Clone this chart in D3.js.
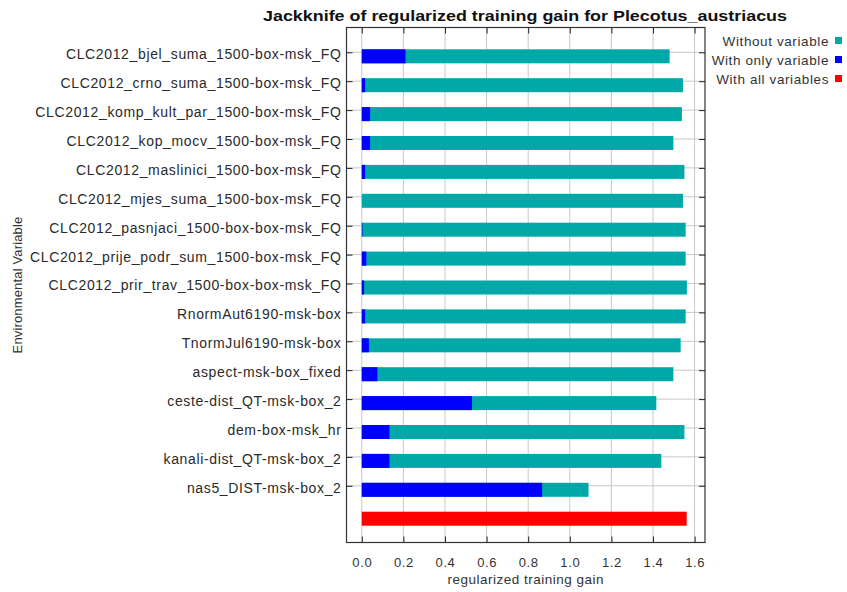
<!DOCTYPE html>
<html><head><meta charset="utf-8">
<script src="https://cdn.jsdelivr.net/npm/d3@7"></script>
<style>body{margin:0;background:#fff}svg{display:block}text{font-family:"Liberation Sans",Arial,sans-serif}</style>
</head><body><svg id="c" width="847" height="592"></svg>
<script>
const variables = [
  "CLC2012_bjel_suma_1500-box-msk_FQ",
  "CLC2012_crno_suma_1500-box-msk_FQ",
  "CLC2012_komp_kult_par_1500-box-msk_FQ",
  "CLC2012_kop_mocv_1500-box-msk_FQ",
  "CLC2012_maslinici_1500-box-msk_FQ",
  "CLC2012_mjes_suma_1500-box-msk_FQ",
  "CLC2012_pasnjaci_1500-box-box-msk_FQ",
  "CLC2012_prije_podr_sum_1500-box-msk_FQ",
  "CLC2012_prir_trav_1500-box-box-msk_FQ",
  "RnormAut6190-msk-box",
  "TnormJul6190-msk-box",
  "aspect-msk-box_fixed",
  "ceste-dist_QT-msk-box_2",
  "dem-box-msk_hr",
  "kanali-dist_QT-msk-box_2",
  "nas5_DIST-msk-box_2"
];
const withoutVariable = [1.480,1.544,1.539,1.498,1.551,1.544,1.557,1.557,1.563,1.557,1.533,1.498,1.416,1.551,1.440,1.090];
const withOnlyVariable = [0.210,0.016,0.040,0.040,0.016,0.000,0.003,0.022,0.011,0.016,0.034,0.075,0.530,0.133,0.133,0.867];
const withAllVariables = 1.562;
const xTicks = [0.0,0.2,0.4,0.6,0.8,1.0,1.2,1.4,1.6];
const legendLabels = ["Without variable","With only variable","With all variables"];
const colors = {without:"#00A8A8", only:"#0000FF", all:"#FF0000"};

const svg = d3.select("#c");
const L = 346.5, R = 705, T = 27.5, B = 542.5;
const x = d3.scaleLinear().domain([-0.0735, 1.650]).range([L, R]);
const rows = variables.concat(["__all__"]);
const y = d3.scalePoint().domain(rows).range([52.3, 514.7]);
const barH = 14, barOff = 3;

// grid
const g = svg.append("g");
g.selectAll("line.vg").data(xTicks).join("line")
  .attr("x1", d => x(d)).attr("x2", d => x(d)).attr("y1", T).attr("y2", B)
  .attr("stroke", "#c8c8c8").attr("stroke-width", 1);
g.selectAll("line.hg").data(variables).join("line")
  .attr("x1", L).attr("x2", R).attr("y1", d => y(d)).attr("y2", d => y(d))
  .attr("stroke", "#c8c8c8").attr("stroke-width", 1);

// bars
svg.append("g").selectAll("rect").data(variables).join("rect")
  .attr("x", x(0)).attr("y", d => y(d) - barOff)
  .attr("width", (d,i) => x(withoutVariable[i]) - x(0)).attr("height", barH)
  .attr("fill", colors.without);
svg.append("g").selectAll("rect").data(variables).join("rect")
  .attr("x", x(0)).attr("y", d => y(d) - barOff)
  .attr("width", (d,i) => x(withOnlyVariable[i]) - x(0)).attr("height", barH)
  .attr("fill", colors.only);
svg.append("rect").attr("x", x(0)).attr("y", y("__all__") - barOff)
  .attr("width", x(withAllVariables) - x(0)).attr("height", barH).attr("fill", colors.all);

// frame
svg.append("rect").attr("x", L).attr("y", T).attr("width", R - L).attr("height", B - T)
  .attr("fill", "none").attr("stroke", "#333").attr("stroke-width", 1.2);

// axes (inward ticks)
const xb = svg.append("g").attr("transform", `translate(0,${B})`)
  .call(d3.axisBottom(x).tickValues(xTicks).tickFormat(d3.format(".1f")).tickSize(-6).tickPadding(15));
const xt = svg.append("g").attr("transform", `translate(0,${T})`)
  .call(d3.axisTop(x).tickValues(xTicks).tickSize(-6).tickFormat(""));
const yl = svg.append("g").attr("transform", `translate(${L},0)`)
  .call(d3.axisLeft(y).tickValues(variables).tickSize(-6).tickPadding(5));
const yr = svg.append("g").attr("transform", `translate(${R},0)`)
  .call(d3.axisRight(y).tickValues(variables).tickSize(-6).tickFormat(""));
[xb, xt, yl, yr].forEach(a => {
  a.select(".domain").remove();
  a.selectAll(".tick line").attr("stroke", "#222");
  a.selectAll("text").attr("fill", "#333").style("font-size", "13px")
    .style("letter-spacing", "0.6px")
    .style("font-family", '"Liberation Sans", Arial, sans-serif');
});
yl.selectAll("text").style("font-size", "14px").style("letter-spacing", "0.64px")
  .attr("fill", "#2a2a2a").attr("y", 2);

// titles
svg.append("text").attr("x", 263).attr("y", 21)
  .attr("textLength", 524).attr("lengthAdjust", "spacingAndGlyphs")
  .style("font-size", "15.5px").style("font-weight", "bold").attr("fill", "#111")
  .text("Jackknife of regularized training gain for Plecotus_austriacus");
svg.append("text").attr("x", (L + R) / 2).attr("y", 584).attr("text-anchor", "middle")
  .style("font-size", "13.5px").style("letter-spacing", "0.5px").attr("fill", "#333").text("regularized training gain");
svg.append("text").attr("transform", `translate(22,${(T + B) / 2}) rotate(-90)`)
  .attr("text-anchor", "middle").style("font-size", "13px").style("letter-spacing", "0.15px").attr("fill", "#333")
  .text("Environmental Variable");

// legend
const lg = svg.append("g");
const lc = [colors.without, colors.only, colors.all];
legendLabels.forEach((t, i) => {
  const yy = 41 + i * 19;
  lg.append("text").attr("x", 829).attr("y", yy + 5).attr("text-anchor", "end")
    .style("font-size", "13.5px").style("letter-spacing", "0.6px").attr("fill", "#333").text(t);
  lg.append("rect").attr("x", 835).attr("y", yy - 4).attr("width", 7).attr("height", 7).attr("fill", lc[i]);
});
</script></body></html>
